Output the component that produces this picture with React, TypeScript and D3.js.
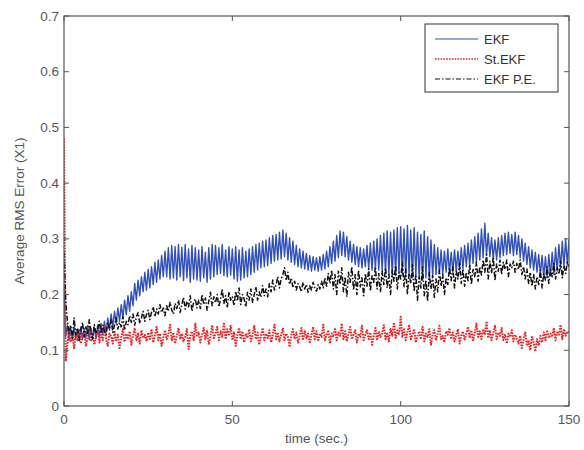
import * as d3 from "d3";

// sampled every 0.5 s, t = 0 .. 150
const timeStep = 0.5;

const ekf = [
  0.21, 0.125, 0.145, 0.118, 0.14, 0.12, 0.143, 0.121, 0.138, 0.117,
  0.142, 0.12, 0.139, 0.122, 0.144, 0.119, 0.14, 0.123, 0.141, 0.121,
  0.145, 0.125, 0.148, 0.128, 0.152, 0.132, 0.158, 0.136, 0.165, 0.142,
  0.17, 0.148, 0.176, 0.152, 0.182, 0.158, 0.19, 0.164, 0.198, 0.17,
  0.205, 0.18, 0.22, 0.19, 0.226, 0.198, 0.232, 0.205, 0.24, 0.208,
  0.245, 0.212, 0.25, 0.218, 0.258, 0.222, 0.262, 0.228, 0.27, 0.232,
  0.278, 0.232, 0.284, 0.228, 0.288, 0.23, 0.286, 0.226, 0.29, 0.232,
  0.285, 0.225, 0.29, 0.23, 0.282, 0.222, 0.288, 0.228, 0.284, 0.226,
  0.28, 0.224, 0.286, 0.23, 0.276, 0.222, 0.284, 0.228, 0.29, 0.232,
  0.288, 0.236, 0.284, 0.238, 0.29, 0.234, 0.28, 0.232, 0.286, 0.235,
  0.282, 0.228, 0.286, 0.224, 0.28, 0.226, 0.284, 0.23, 0.278, 0.232,
  0.282, 0.236, 0.286, 0.24, 0.29, 0.244, 0.292, 0.248, 0.296, 0.25,
  0.298, 0.252, 0.302, 0.256, 0.306, 0.26, 0.308, 0.262, 0.312, 0.264,
  0.316, 0.268, 0.31, 0.262, 0.302, 0.258, 0.296, 0.254, 0.288, 0.25,
  0.282, 0.248, 0.278, 0.246, 0.274, 0.244, 0.27, 0.242, 0.268, 0.244,
  0.266, 0.242, 0.268, 0.244, 0.272, 0.246, 0.278, 0.25, 0.286, 0.256,
  0.296, 0.26, 0.306, 0.266, 0.314, 0.27, 0.312, 0.268, 0.304, 0.262,
  0.296, 0.258, 0.29, 0.254, 0.286, 0.25, 0.284, 0.248, 0.282, 0.25,
  0.288, 0.246, 0.292, 0.244, 0.296, 0.246, 0.3, 0.244, 0.306, 0.242,
  0.31, 0.238, 0.314, 0.236, 0.312, 0.232, 0.316, 0.234, 0.32, 0.238,
  0.322, 0.236, 0.318, 0.232, 0.324, 0.234, 0.316, 0.23, 0.32, 0.232,
  0.312, 0.228, 0.308, 0.226, 0.314, 0.23, 0.304, 0.228, 0.298, 0.232,
  0.29, 0.236, 0.284, 0.238, 0.28, 0.236, 0.278, 0.24, 0.282, 0.238,
  0.276, 0.24, 0.28, 0.242, 0.278, 0.244, 0.284, 0.246, 0.288, 0.25,
  0.292, 0.252, 0.298, 0.256, 0.304, 0.258, 0.31, 0.262, 0.318, 0.266,
  0.328, 0.27, 0.31, 0.268, 0.302, 0.264, 0.298, 0.262, 0.302, 0.266,
  0.306, 0.27, 0.31, 0.272, 0.312, 0.274, 0.308, 0.27, 0.312, 0.272,
  0.306, 0.266, 0.3, 0.26, 0.292, 0.254, 0.286, 0.248, 0.28, 0.244,
  0.276, 0.24, 0.272, 0.236, 0.27, 0.232, 0.268, 0.23, 0.272, 0.234,
  0.276, 0.236, 0.284, 0.242, 0.29, 0.246, 0.296, 0.25, 0.3, 0.254,
  0.298,
];

const stEkf = [
  0.48, 0.08, 0.11, 0.135, 0.115, 0.128, 0.104, 0.132, 0.118, 0.138,
  0.112, 0.126, 0.134, 0.108, 0.122, 0.14, 0.116, 0.13, 0.11, 0.124,
  0.136, 0.114, 0.128, 0.118, 0.142, 0.12, 0.108, 0.13, 0.125, 0.112,
  0.135, 0.118, 0.128, 0.104, 0.124, 0.138, 0.115, 0.13, 0.12, 0.134,
  0.11, 0.126, 0.14, 0.118, 0.13, 0.112, 0.136, 0.122, 0.128, 0.116,
  0.132, 0.12, 0.138, 0.114, 0.126, 0.142, 0.118, 0.13, 0.108, 0.124,
  0.136, 0.12, 0.128, 0.146, 0.118, 0.132, 0.112, 0.126, 0.14, 0.12,
  0.13, 0.116, 0.124, 0.138, 0.102, 0.126, 0.134, 0.118, 0.148, 0.124,
  0.132, 0.114, 0.128, 0.14, 0.12, 0.135, 0.11, 0.126, 0.145, 0.122,
  0.13, 0.142, 0.118, 0.134, 0.124, 0.15, 0.12, 0.138, 0.126, 0.144,
  0.118, 0.132, 0.108, 0.128, 0.14, 0.12, 0.134, 0.114, 0.13, 0.122,
  0.138, 0.116, 0.128, 0.144, 0.12, 0.132, 0.11, 0.126, 0.14, 0.118,
  0.13, 0.122, 0.136, 0.114, 0.128, 0.146, 0.12, 0.132, 0.116, 0.128,
  0.14, 0.118, 0.13, 0.124, 0.106, 0.128, 0.138, 0.12, 0.132, 0.114,
  0.126, 0.14, 0.118, 0.134, 0.122, 0.13, 0.112, 0.128, 0.142, 0.12,
  0.134, 0.116, 0.13, 0.124, 0.146, 0.118, 0.128, 0.136, 0.112, 0.13,
  0.124, 0.14, 0.118, 0.132, 0.126, 0.148, 0.12, 0.134, 0.116, 0.13,
  0.142, 0.12, 0.128, 0.136, 0.114, 0.13, 0.124, 0.144, 0.118, 0.128,
  0.136, 0.12, 0.132, 0.11, 0.126, 0.14, 0.118, 0.134, 0.124, 0.13,
  0.145, 0.12, 0.132, 0.116, 0.138, 0.126, 0.15, 0.122, 0.136, 0.128,
  0.16, 0.124, 0.14, 0.118, 0.132, 0.146, 0.12, 0.128, 0.138, 0.114,
  0.126, 0.134, 0.12, 0.142, 0.116, 0.13, 0.124, 0.138, 0.11, 0.128,
  0.136, 0.118, 0.13, 0.144, 0.12, 0.126, 0.114, 0.134, 0.128, 0.14,
  0.12, 0.132, 0.116, 0.128, 0.138, 0.112, 0.126, 0.134, 0.118, 0.13,
  0.142, 0.122, 0.136, 0.118, 0.13, 0.148, 0.124, 0.134, 0.12, 0.138,
  0.128, 0.152, 0.122, 0.136, 0.118, 0.13, 0.144, 0.12, 0.132, 0.126,
  0.14, 0.118, 0.128, 0.112, 0.13, 0.124, 0.136, 0.116, 0.128, 0.12,
  0.112, 0.126, 0.104, 0.12, 0.132, 0.108, 0.118, 0.1, 0.124, 0.114,
  0.098, 0.12, 0.108, 0.126, 0.114, 0.132, 0.118, 0.136, 0.122, 0.13,
  0.124, 0.14, 0.118, 0.132, 0.128, 0.146, 0.12, 0.138, 0.126, 0.134,
  0.13,
];

const ekfPE = [
  0.275, 0.19, 0.152, 0.13, 0.145, 0.122, 0.158, 0.128, 0.14, 0.118,
  0.135, 0.15, 0.124, 0.142, 0.128, 0.155, 0.132, 0.12, 0.146, 0.13,
  0.138, 0.152, 0.13, 0.145, 0.135, 0.128, 0.15, 0.138, 0.155, 0.132,
  0.145, 0.158, 0.138, 0.15, 0.142, 0.16, 0.136, 0.152, 0.146, 0.162,
  0.15, 0.165, 0.145, 0.16, 0.168, 0.148, 0.158, 0.17, 0.152, 0.164,
  0.172, 0.155, 0.168, 0.178, 0.16, 0.174, 0.165, 0.182, 0.168, 0.176,
  0.162, 0.18, 0.17, 0.186, 0.172, 0.165, 0.184, 0.175, 0.19, 0.168,
  0.182, 0.195, 0.174, 0.188, 0.178, 0.198, 0.17, 0.186, 0.192, 0.176,
  0.19, 0.175, 0.2, 0.182, 0.194, 0.172, 0.188, 0.204, 0.18, 0.196,
  0.185, 0.2, 0.178, 0.192, 0.21, 0.184, 0.198, 0.176, 0.205, 0.19,
  0.196, 0.18, 0.206, 0.188, 0.212, 0.182, 0.2, 0.192, 0.178, 0.204,
  0.19, 0.21, 0.186, 0.2, 0.214, 0.19, 0.205, 0.195, 0.216, 0.198,
  0.21, 0.196, 0.22, 0.205, 0.226, 0.208, 0.218, 0.232, 0.212, 0.228,
  0.236, 0.248, 0.225, 0.24, 0.218, 0.23, 0.212, 0.224, 0.208, 0.22,
  0.214, 0.205, 0.222, 0.21, 0.218, 0.204, 0.216, 0.208, 0.222, 0.212,
  0.206, 0.218, 0.21, 0.224, 0.212, 0.23, 0.215, 0.238, 0.22, 0.244,
  0.21, 0.236, 0.2, 0.242, 0.218, 0.248, 0.205, 0.232, 0.196, 0.24,
  0.222, 0.25, 0.208, 0.236, 0.2, 0.244, 0.214, 0.23, 0.198, 0.238,
  0.215, 0.246, 0.206, 0.234, 0.222, 0.25, 0.21, 0.238, 0.204, 0.242,
  0.218, 0.248, 0.212, 0.236, 0.2, 0.244, 0.224, 0.252, 0.21, 0.24,
  0.228, 0.258, 0.214, 0.246, 0.2, 0.238, 0.22, 0.254, 0.205, 0.236,
  0.19, 0.232, 0.212, 0.25, 0.198, 0.226, 0.188, 0.24, 0.21, 0.234,
  0.195, 0.228, 0.205, 0.244, 0.215, 0.236, 0.2, 0.23, 0.218, 0.248,
  0.225, 0.25, 0.212, 0.242, 0.228, 0.256, 0.22, 0.246, 0.215, 0.24,
  0.225, 0.254, 0.218, 0.245, 0.232, 0.258, 0.224, 0.25, 0.235, 0.262,
  0.24, 0.272, 0.228, 0.26, 0.238, 0.268, 0.225, 0.255, 0.242, 0.262,
  0.236, 0.258, 0.245, 0.262, 0.232, 0.255, 0.248, 0.26, 0.24, 0.256,
  0.245, 0.262, 0.236, 0.25, 0.228, 0.246, 0.22, 0.24, 0.215, 0.236,
  0.21, 0.232, 0.218, 0.244, 0.212, 0.238, 0.226, 0.25, 0.22, 0.245,
  0.232, 0.256, 0.228, 0.248, 0.236, 0.26, 0.23, 0.252, 0.238, 0.258,
  0.25,
];

const xTicks = [0, 50, 100, 150];
const yTicks = [0, 0.1, 0.2, 0.3, 0.4, 0.5, 0.6, 0.7];

const series = [
  { label: "EKF", values: ekf, color: "#3050b8", width: 1.4, legendWidth: 1, dash: undefined },
  { label: "St.EKF", values: stEkf, color: "#e82424", width: 2, legendWidth: 1.4, dash: "1.6 1.2" },
  { label: "EKF P.E.", values: ekfPE, color: "#111111", width: 1.5, legendWidth: 1.2, dash: "5 2 1.5 2" },
];

const W = 584;
const H = 450;
const margin = { top: 16, right: 15, bottom: 44, left: 64 };
const axisColor = "#555";
const font = "Arial, 'Liberation Sans', sans-serif";

export default function App() {
  const x = d3.scaleLinear().domain([0, 150]).range([margin.left, W - margin.right]);
  const y = d3.scaleLinear().domain([0, 0.7]).range([H - margin.bottom, margin.top]);
  const [x0, x1] = x.range();
  const [y0, y1] = y.range();

  const line = d3
    .line<number>()
    .x((_, i) => x(i * timeStep))
    .y((v) => y(v));

  const tick = 5;
  const legend = { x: 425, y: 24, w: 133, h: 68 };

  return (
    <svg
      width={W}
      height={H}
      style={{ position: "absolute", left: 0, top: 0, background: "#fff" }}
      fontFamily={font}
    >
      <defs>
        <clipPath id="plot">
          <rect x={x0} y={y1} width={x1 - x0} height={y0 - y1} />
        </clipPath>
      </defs>

      <g clipPath="url(#plot)">
        {series.map((s) => (
          <path
            key={s.label}
            d={line(s.values) ?? ""}
            fill="none"
            stroke={s.color}
            strokeWidth={s.width}
            strokeDasharray={s.dash}
            strokeLinejoin="round"
          />
        ))}
      </g>

      <rect x={x0} y={y1} width={x1 - x0} height={y0 - y1} fill="none" stroke={axisColor} strokeWidth={1.2} />

      {xTicks.map((t) => (
        <g key={"x" + t}>
          <line x1={x(t)} x2={x(t)} y1={y0} y2={y0 - tick} stroke={axisColor} />
          <line x1={x(t)} x2={x(t)} y1={y1} y2={y1 + tick} stroke={axisColor} />
          <text x={x(t)} y={y0 + 18} textAnchor="middle" fontSize={13.5} fill={axisColor}>
            {t}
          </text>
        </g>
      ))}

      {yTicks.map((t) => (
        <g key={"y" + t}>
          <line x1={x0} x2={x0 + tick} y1={y(t)} y2={y(t)} stroke={axisColor} />
          <line x1={x1} x2={x1 - tick} y1={y(t)} y2={y(t)} stroke={axisColor} />
          <text x={x0 - 5} y={y(t) + 4.5} textAnchor="end" fontSize={13.5} fill={axisColor}>
            {t === 0 ? "0" : t.toFixed(1)}
          </text>
        </g>
      ))}

      <text x={(x0 + x1) / 2} y={443} textAnchor="middle" fontSize={13.5} fill={axisColor}>
        time (sec.)
      </text>
      <text
        transform={`translate(24, ${(y0 + y1) / 2}) rotate(-90)`}
        textAnchor="middle"
        fontSize={13.5}
        fill={axisColor}
      >
        Average RMS Error (X1)
      </text>

      <rect x={legend.x} y={legend.y} width={legend.w} height={legend.h} fill="#fff" stroke="#333" />
      {series.map((s, i) => {
        const ly = legend.y + 15 + i * 20;
        return (
          <g key={"lg" + s.label}>
            <line
              x1={legend.x + 10}
              x2={legend.x + 53}
              y1={ly}
              y2={ly}
              stroke={s.color}
              strokeWidth={s.legendWidth}
              strokeDasharray={s.dash}
            />
            <text x={legend.x + 59} y={ly + 4.5} fontSize={13} fill="#333">
              {s.label}
            </text>
          </g>
        );
      })}
    </svg>
  );
}
